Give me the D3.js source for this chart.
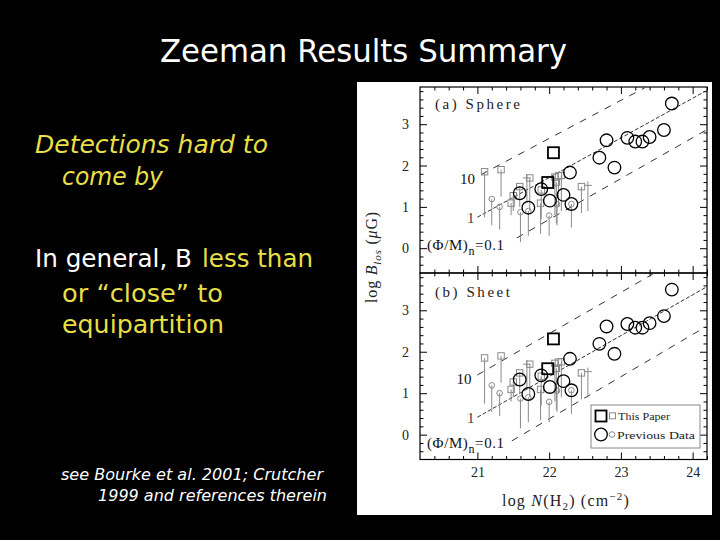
<!DOCTYPE html>
<html><head><meta charset="utf-8">
<script src="https://cdn.jsdelivr.net/npm/d3@7"></script>
<style>html,body{margin:0;padding:0;background:#000;}svg{display:block;}</style>
</head><body>
<svg id="c" width="720" height="540"></svg>
<script>
// ---- data ----
const xTickLabels = [21, 22, 23, 24];
const yTickLabels = [0, 1, 2, 3];
// Previous data (large circles, detections)
const bigCircX = [21.59, 21.71, 21.89, 22.01, 22.20, 22.31, 22.29, 22.70, 22.80, 22.91, 23.09, 23.20, 23.30, 23.40, 23.60, 23.71];
const bigCircY = [1.33, 0.98, 1.43, 1.15, 1.29, 1.07, 1.83, 2.19, 2.61, 1.95, 2.67, 2.58, 2.58, 2.69, 2.86, 3.50];
// This paper (large squares, detections)
const bigSqX = [22.06, 21.98];
const bigSqY = [2.31, 1.59];
// This paper (small squares, with bars down)
const smallSqX = [21.10, 21.33, 21.47, 21.50, 21.59, 21.73, 21.88, 21.89, 22.08, 22.13, 22.17, 22.10, 22.45];
const smallSqY = [1.85, 1.90, 1.09, 1.27, 1.49, 1.70, 1.09, 1.41, 1.72, 1.75, 1.76, 1.60, 1.49];
const smallSqLow = [0.75, 1.25, 0.80, 0.90, 1.00, 0.90, 0.35, 0.70, 0.80, 1.00, 0.90, 0.60, 0.85];
// Previous data (small circles, with bars down)
const smallCircX = [21.20, 21.31, 21.60, 21.71, 22.00, 22.11, 22.31];
const smallCircY = [1.19, 1.00, 0.87, 0.90, 0.79, 1.06, 1.07];
const smallCircLow = [0.55, 0.45, 0.15, 0.30, 0.30, 0.55, 0.50];
// crosses
const crossX = [21.69, 22.54];
const crossY = [1.70, 1.52];
const crossLow = [1.10, 0.90];
// model lines (Phi/M)_n = 0.1, 1, 10
const modelLabels = ["0.1", "1", "10"];
const sphereX0 = [21.55, 21.00, 21.05], sphereY0 = [0.25, 0.75, 1.78];
const sphereX1 = [24.18, 24.18, 23.33], sphereY1 = [2.85, 3.80, 3.88];
const sheetX0 = [21.48, 21.00, 21.00], sheetY0 = [-0.15, 0.42, 1.44];
const sheetX1 = [24.18, 24.18, 23.45], sheetY1 = [2.60, 3.55, 3.88];
const panelNames = ["(a) Sphere", "(b) Sheet"];
const legendLabels = ["This Paper", "Previous Data"];

const svg = d3.select("#c");
const YEL = "#e6df46";
const GRAY = "#8a8a8a";
const SERIF = "'Liberation Serif','DejaVu Serif',serif";

// ---- slide text ----
svg.append("text").attr("x", 160).attr("y", 62).attr("fill", "#fff")
  .attr("font-family", "'DejaVu Sans',sans-serif").attr("font-size", 32)
  .attr("textLength", 407).attr("lengthAdjust", "spacingAndGlyphs").text("Zeeman Results Summary");

function stext(x, y, s, w, col, size, italic) {
  svg.append("text").attr("x", x).attr("y", y).attr("fill", col)
    .attr("font-family", "'DejaVu Sans',sans-serif").attr("font-size", size)
    .attr("font-style", italic ? "italic" : "normal")
    .attr("textLength", w).attr("lengthAdjust", "spacingAndGlyphs").text(s);
}
stext(35, 153, "Detections hard to", 233, YEL, 25, true);
stext(62, 185, "come by", 101, YEL, 25, true);
stext(35, 267, "In general, B", 157, "#fff", 25, false);
stext(202, 267, "less than", 111, YEL, 25, false);
stext(62, 302, "or \u201cclose\u201d to", 161, YEL, 25, false);
stext(62, 333, "equipartition", 162, YEL, 25, false);
stext(61, 480, "see Bourke et al. 2001; Crutcher", 262, "#fff", 15.5, true);
stext(98, 501, "1999 and references therein", 229, "#fff", 15.5, true);

// ---- figure ----
svg.append("rect").attr("x", 357).attr("y", 82).attr("width", 355).attr("height", 433).attr("fill", "#fff");

const x = d3.scaleLinear().domain([20.2, 24.2]).range([420, 707]);
const panels = [
  {y: d3.scaleLinear().domain([-0.6, 3.9]).range([273, 87]), x0: sphereX0, y0: sphereY0, x1: sphereX1, y1: sphereY1, name: panelNames[0], w: 85},
  {y: d3.scaleLinear().domain([-0.6, 3.9]).range([459.5, 273]), x0: sheetX0, y0: sheetY0, x1: sheetX1, y1: sheetY1, name: panelNames[1], w: 75}
];
const minorX = d3.range(20.4, 24.2, 0.2).map(v => +v.toFixed(1));
const minorY = d3.range(-0.4, 3.9, 0.2).map(v => +v.toFixed(1));

panels.forEach((p, pi) => {
  const y = p.y;
  const g = svg.append("g");
  const [yb, yt] = y.range();
  function ax(axisFn, tr, vals, size) {
    const a = g.append("g").attr("transform", tr)
      .call(axisFn.tickValues(vals).tickSize(-size).tickFormat(""));
    a.select(".domain").remove();
    a.selectAll("line").attr("stroke", "#000").attr("stroke-width", 1);
  }
  const majX = xTickLabels, majY = yTickLabels;
  ax(d3.axisBottom(x), `translate(0,${yb})`, minorX.filter(v => !majX.includes(v)), 3.5);
  ax(d3.axisBottom(x), `translate(0,${yb})`, majX, 7);
  ax(d3.axisTop(x), `translate(0,${yt})`, minorX.filter(v => !majX.includes(v)), 3.5);
  ax(d3.axisTop(x), `translate(0,${yt})`, majX, 7);
  ax(d3.axisLeft(y), `translate(420,0)`, minorY.filter(v => !majY.includes(v)), 3.5);
  ax(d3.axisLeft(y), `translate(420,0)`, majY, 7);
  ax(d3.axisRight(y), `translate(707,0)`, minorY.filter(v => !majY.includes(v)), 3.5);
  ax(d3.axisRight(y), `translate(707,0)`, majY, 7);
  g.append("rect").attr("x", 420).attr("y", yt).attr("width", 287).attr("height", yb - yt)
    .attr("fill", "none").attr("stroke", "#000").attr("stroke-width", 1.2);
  // y tick labels
  const yl = g.append("g").attr("transform", "translate(420,0)")
    .call(d3.axisLeft(y).tickValues(yTickLabels).tickFormat(d3.format("d")).tickSize(0).tickPadding(11));
  yl.select(".domain").remove();
  yl.selectAll("text").attr("font-family", SERIF).attr("font-size", 14).attr("fill", "#222");

  // model lines
  p.x0.forEach((v, i) => {
    g.append("line").attr("x1", x(v)).attr("y1", y(p.y0[i])).attr("x2", x(p.x1[i])).attr("y2", y(p.y1[i]))
      .attr("stroke", "#333").attr("stroke-width", 1)
      .attr("stroke-dasharray", i === 1 ? "4,2" : "7,7");
  });
  // labels for lines
  g.append("text").attr("x", x(p.x0[2]) - 6).attr("y", y(p.y0[2]) + 9).attr("text-anchor", "end")
    .attr("font-family", SERIF).attr("font-size", 15).attr("fill", "#111").text(modelLabels[2]);
  g.append("text").attr("x", x(p.x0[1]) - 3).attr("y", y(p.y0[1]) + 6).attr("text-anchor", "end")
    .attr("font-family", SERIF).attr("font-size", 15).attr("fill", "#444").text(modelLabels[1]);
  const lab = g.append("text").attr("x", 427).attr("y", pi === 0 ? y(0.07) + 5 : y(-0.19) + 5)
    .attr("font-family", SERIF).attr("font-size", 15).attr("fill", "#111").attr("letter-spacing", 0.6);
  lab.append("tspan").text("(\u03a6/M)");
  lab.append("tspan").attr("dy", 5).attr("font-size", 12).text("n");
  lab.append("tspan").attr("dy", -5).text("=0.1");
  g.append("text").attr("x", 435).attr("y", pi === 0 ? 109 : 297)
    .attr("font-family", SERIF).attr("font-size", 15).attr("fill", "#222")
    .attr("textLength", p.w).attr("lengthAdjust", "spacing").text(p.name);

  // bars down
  smallSqX.forEach((v, i) => g.append("line").attr("x1", x(v)).attr("x2", x(v))
    .attr("y1", y(smallSqY[i])).attr("y2", y(smallSqLow[i])).attr("stroke", GRAY).attr("stroke-width", 1));
  smallCircX.forEach((v, i) => g.append("line").attr("x1", x(v)).attr("x2", x(v))
    .attr("y1", y(smallCircY[i])).attr("y2", y(smallCircLow[i])).attr("stroke", GRAY).attr("stroke-width", 1));
  crossX.forEach((v, i) => {
    g.append("line").attr("x1", x(v)).attr("x2", x(v)).attr("y1", y(crossY[i]) - 4).attr("y2", y(crossLow[i]))
      .attr("stroke", GRAY).attr("stroke-width", 1);
    g.append("line").attr("x1", x(v) - 4).attr("x2", x(v) + 4).attr("y1", y(crossY[i])).attr("y2", y(crossY[i]))
      .attr("stroke", GRAY).attr("stroke-width", 1);
  });
  // small symbols
  g.selectAll(null).data(smallSqX).enter().append("rect")
    .attr("x", (d) => x(d) - 3.2).attr("y", (d, i) => y(smallSqY[i]) - 3.2).attr("width", 6.4).attr("height", 6.4)
    .attr("fill", "none").attr("stroke", GRAY).attr("stroke-width", 1);
  g.selectAll(null).data(smallCircX).enter().append("circle")
    .attr("cx", d => x(d)).attr("cy", (d, i) => y(smallCircY[i])).attr("r", 2.8)
    .attr("fill", "none").attr("stroke", GRAY).attr("stroke-width", 1);
  // big symbols
  g.selectAll(null).data(bigCircX).enter().append("circle")
    .attr("cx", d => x(d)).attr("cy", (d, i) => y(bigCircY[i])).attr("r", 6.3)
    .attr("fill", "none").attr("stroke", "#000").attr("stroke-width", 1.3);
  g.selectAll(null).data(bigSqX).enter().append("rect")
    .attr("x", d => x(d) - 5.5).attr("y", (d, i) => y(bigSqY[i]) - 5.5).attr("width", 11).attr("height", 11)
    .attr("fill", "none").attr("stroke", "#000").attr("stroke-width", 1.8);
});

// x tick labels
const xl = svg.append("g").attr("transform", "translate(0,459.5)")
  .call(d3.axisBottom(x).tickValues(xTickLabels).tickFormat(d3.format("d")).tickSize(0).tickPadding(8));
xl.select(".domain").remove();
xl.selectAll("text").attr("font-family", SERIF).attr("font-size", 14).attr("fill", "#222");

// legend
const lg = svg.append("g");
lg.append("rect").attr("x", 591).attr("y", 405).attr("width", 109).attr("height", 43)
  .attr("fill", "#fff").attr("stroke", "#888").attr("stroke-width", 1);
lg.append("rect").attr("x", 595.5).attr("y", 410.5).attr("width", 11).attr("height", 11)
  .attr("fill", "none").attr("stroke", "#000").attr("stroke-width", 1.8);
lg.append("rect").attr("x", 609.5).attr("y", 412.8).attr("width", 6).attr("height", 6)
  .attr("fill", "none").attr("stroke", GRAY).attr("stroke-width", 1);
lg.append("circle").attr("cx", 601).attr("cy", 434.5).attr("r", 6.3)
  .attr("fill", "none").attr("stroke", "#000").attr("stroke-width", 1.3);
lg.append("circle").attr("cx", 612).attr("cy", 434.5).attr("r", 2.8)
  .attr("fill", "none").attr("stroke", GRAY).attr("stroke-width", 1);
lg.append("text").attr("x", 618).attr("y", 420).attr("font-family", SERIF).attr("font-size", 11)
  .attr("fill", "#222").attr("textLength", 52).attr("lengthAdjust", "spacingAndGlyphs").text(legendLabels[0]);
lg.append("text").attr("x", 617).attr("y", 438.5).attr("font-family", SERIF).attr("font-size", 11)
  .attr("fill", "#222").attr("textLength", 78).attr("lengthAdjust", "spacingAndGlyphs").text(legendLabels[1]);

// axis titles
const xt = svg.append("text").attr("x", 566).attr("y", 506).attr("text-anchor", "middle")
  .attr("font-family", SERIF).attr("font-size", 16).attr("fill", "#222").attr("letter-spacing", 1.2);
xt.append("tspan").text("log ");
xt.append("tspan").attr("font-style", "italic").text("N");
xt.append("tspan").text("(H");
xt.append("tspan").attr("dy", 4).attr("font-size", 11).text("2");
xt.append("tspan").attr("dy", -4).text(")  (cm");
xt.append("tspan").attr("dy", -6).attr("font-size", 11).text("\u22122");
xt.append("tspan").attr("dy", 6).text(")");

const yt = svg.append("text").attr("transform", "translate(377,257) rotate(-90)").attr("text-anchor", "middle")
  .attr("font-family", SERIF).attr("font-size", 16).attr("fill", "#222").attr("letter-spacing", 0.8);
yt.append("tspan").text("log ");
yt.append("tspan").attr("font-style", "italic").text("B");
yt.append("tspan").attr("dy", 4).attr("font-size", 11).attr("font-style", "italic").text("los");
yt.append("tspan").attr("dy", -4).text(" (");
yt.append("tspan").attr("font-style", "italic").text("\u03bc");
yt.append("tspan").text("G)");
</script>
</body></html>
